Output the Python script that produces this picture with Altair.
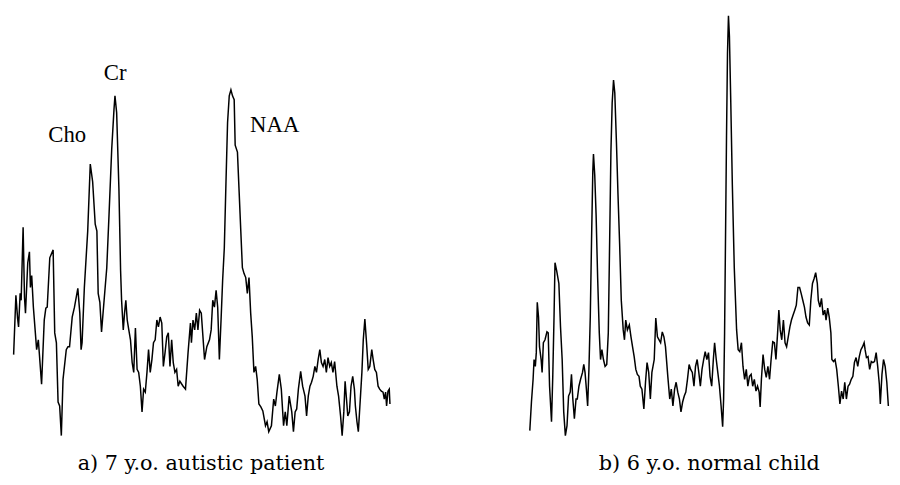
import altair as alt
import pandas as pd

# ---- Panel a: 7 y.o. autistic patient (position along spectrum, signal in arbitrary units)
a_pos = [
    1.7, 4, 5.7, 6.7, 8.3, 9.3, 11.3, 12.7, 13.7, 16,
    17.7, 18.7, 20, 21.7, 25, 26.7, 30, 32.7, 34.3, 35.7,
    38.3, 41.7, 43.3, 45, 46.7, 48.3, 50, 51.7, 55, 56.7,
    58.3, 61, 63.3, 66.7, 68.7, 70, 71, 73.3, 76.7, 79.3,
    81.7, 84.3, 86, 87.3, 89, 90.7, 93.3, 96, 98.3, 101,
    103.3, 104.3, 106, 108.3, 110, 111, 112.7, 114, 115.3, 116.7,
    118.3, 120, 121.7, 123.3, 125, 126.7, 128.3, 130, 131.7, 133.3,
    135, 136.7, 138.3, 140, 141.7, 143.3, 145, 146.7, 148.3, 150,
    151.7, 153.3, 155, 156.7, 158.3, 160, 161.7, 163.3, 165, 166.7,
    168.3, 170, 173.3, 175.7, 178.3, 180.7, 181.7, 183.3, 185, 186.7,
    188.3, 190, 191.7, 195, 197.3, 200, 201.7, 203.3, 205, 206.7,
    208.3, 210, 211.7, 213.3, 215, 216.7, 218.3, 220, 221.7, 223.3,
    225, 226, 228.3, 230, 231.7, 233.3, 235, 236.7, 238.3, 240,
    241.7, 243.3, 245, 246.7, 248.3, 250, 252, 254, 256.7, 258.3,
    260, 262.7, 265, 266.7, 268.3, 270.7, 272.7, 275, 276.7, 278.3,
    280.7, 282.3, 283.3, 285, 286.7, 288.3, 290, 292.3, 294.3, 296.7,
    298.3, 300, 301.7, 303.3, 305, 306.7, 308.3, 310, 311.7, 313.3,
    315, 316.7, 318.3, 320, 321.7, 323.3, 325, 326.7, 329, 330.7,
    332.7, 334.3, 336, 337.3, 338.7, 340, 341.7, 343.3, 345, 346.7,
    347.7, 349.3, 350.7, 352.7, 354.3, 355.7, 357.3, 359, 360.7, 362.3,
    364.3, 365.7, 367.3, 369, 370.7, 372.3, 374, 375.7, 377, 378.3,
    379.3, 380.7, 382, 382.7,
]
a_sig = [
    82, 142, 119, 110, 144, 137, 211, 140, 124, 175,
    186, 150, 162, 130, 87, 97, 52, 117, 129, 130,
    180, 188, 104, 94, 34, 30, 0, 57, 87, 90,
    90, 120, 130, 149, 124, 87, 94, 150, 207, 275,
    257, 214, 207, 144, 135, 105, 137, 170, 224, 290,
    330, 344, 327, 250, 167, 137, 107, 124, 137, 117,
    107, 97, 74, 64, 109, 67, 64, 50, 24, 47,
    44, 64, 87, 64, 77, 94, 97, 117, 110, 120,
    114, 70, 84, 100, 104, 70, 97, 74, 64, 67,
    50, 55, 50, 47, 84, 114, 94, 117, 107, 124,
    107, 127, 124, 77, 90, 97, 107, 137, 130, 147,
    130, 77, 117, 157, 190, 257, 317, 344, 350, 344,
    340, 294, 287, 247, 207, 170, 164, 160, 144, 160,
    124, 100, 64, 70, 57, 32, 29, 25, 10, 14,
    4, 10, 37, 30, 44, 62, 47, 10, 24, 10,
    40, 30, 24, 4, 24, 27, 47, 65, 50, 40,
    20, 40, 50, 54, 60, 70, 64, 77, 87, 74,
    70, 77, 64, 79, 70, 74, 64, 75, 50, 40,
    20, 0, 24, 55, 37, 20, 24, 50, 60, 47,
    30, 14, 4, 37, 64, 97, 118, 94, 67, 70,
    87, 77, 67, 64, 50, 47, 45, 44, 37, 44,
    30, 45, 47, 32,
]

# ---- Panel b: 6 y.o. normal child
b_pos = [
    0.3, 2, 3.7, 4.7, 6, 7, 8, 9.3, 10.3, 12,
    13, 14.3, 16, 18, 19.3, 20.7, 22.7, 24, 25.3, 26.3,
    28, 30.3, 32, 33.7, 35.3, 37, 38.7, 40.3, 42, 43.3,
    44.7, 46.3, 48, 49.3, 51, 52.7, 54.7, 56, 57.3, 58.7,
    60, 61.3, 62.7, 64, 65.3, 66, 67.3, 68.7, 70.3, 72,
    73.3, 74.7, 76.3, 78, 79.7, 81.3, 82.7, 84, 85.3, 86.7,
    88, 89.7, 91.3, 93, 94.7, 96.7, 98, 99.3, 101, 103,
    104.7, 106.3, 108, 109.7, 111.3, 113, 114.3, 116, 118, 119.7,
    121.3, 123, 124.7, 126.3, 128.7, 130.3, 132, 133.7, 135.3, 137,
    138.7, 140.3, 142.7, 144.7, 146.3, 148, 149.7, 151.3, 153, 154.7,
    156.3, 158, 159.7, 161.3, 163, 164.7, 166.3, 168, 169.7, 171.3,
    173, 174.7, 176.3, 178, 179.7, 181.3, 183, 184.7, 186.3, 188,
    189.7, 191, 192.7, 194.3, 196, 197.7, 199.3, 200.3, 201.3, 202.3,
    203.3, 204.3, 205.3, 206.3, 207.7, 209.3, 211.3, 213.7, 215.3, 217,
    218.7, 220.3, 222, 223.7, 225.3, 227, 228.7, 230.3, 232, 233.7,
    235.3, 237, 238, 239.3, 241, 242.7, 244.3, 246, 247.7, 249.3,
    251, 252.7, 254.3, 256, 257.3, 258.7, 260.3, 262, 263.7, 265.3,
    267, 268.7, 270.3, 272, 273.7, 275.3, 277, 278.7, 280.3, 282,
    283.7, 285.3, 287, 288.7, 290.3, 292, 293.7, 295.3, 297, 298,
    299.7, 301.3, 303, 304.7, 306, 307.7, 309.3, 311, 312, 313.7,
    315.3, 317, 318.7, 320.3, 322, 323.7, 325.3, 327, 328.7, 330.3,
    332, 333.7, 335.3, 337, 338.7, 340.3, 342, 343.7, 345.3, 346.3,
    347.7, 349.3, 351, 352.7, 354.3, 356, 357.7, 359.3, 361, 362,
    363.7, 365.3, 367, 368.7, 370.3,
]
b_sig = [
    5, 34, 57, 77, 70, 84, 135, 120, 90, 77,
    64, 94, 97, 105, 104, 50, 14, 60, 120, 175,
    167, 154, 110, 77, 24, 0, 10, 40, 44, 62,
    37, 17, 37, 37, 50, 57, 64, 72, 64, 47,
    30, 67, 120, 197, 267, 285, 264, 224, 160, 104,
    77, 87, 77, 70, 72, 104, 197, 287, 337, 360,
    347, 297, 244, 194, 137, 107, 97, 117, 107, 112,
    100, 90, 80, 67, 62, 60, 50, 47, 27, 54,
    74, 64, 37, 64, 77, 119, 100, 97, 94, 105,
    100, 90, 60, 37, 47, 30, 47, 54, 44, 37,
    24, 34, 40, 44, 57, 72, 67, 64, 50, 70,
    77, 64, 50, 67, 77, 85, 77, 84, 60, 50,
    77, 94, 77, 64, 50, 30, 9, 37, 104, 204,
    304, 387, 425, 404, 337, 254, 170, 107, 87, 85,
    94, 70, 57, 67, 50, 60, 62, 50, 57, 45,
    50, 44, 29, 57, 82, 67, 59, 70, 57, 77,
    95, 94, 77, 104, 127, 107, 97, 117, 94, 90,
    100, 110, 117, 122, 127, 132, 150, 150, 144, 137,
    130, 120, 114, 112, 137, 154, 159, 165, 154, 137,
    130, 139, 122, 127, 117, 129, 120, 104, 77, 75,
    77, 67, 50, 32, 45, 37, 54, 37, 50, 52,
    57, 60, 74, 79, 70, 80, 87, 90, 94, 87,
    79, 80, 67, 75, 74, 75, 84, 70, 52, 32,
    62, 77, 70, 54, 30,
]

# ---- Peak labels (panel a) and captions
label_text = ["Cho", "Cr", "NAA"]
label_pos = [56, 104.5, 266]
label_sig = [297, 360, 307]
captions = ["a) 7 y.o. autistic patient", "b) 6 y.o. normal child"]

assert len(a_pos) == len(a_sig)
assert len(b_pos) == len(b_sig)

df_a = pd.DataFrame({"pos": a_pos, "signal": a_sig})
df_b = pd.DataFrame({"pos": b_pos, "signal": b_sig})
df_lab = pd.DataFrame({"pos": label_pos, "signal": label_sig, "label": label_text})

y_enc = alt.Y("signal:Q", scale=alt.Scale(domain=[0, 427], nice=False, zero=False), axis=None)

def caption(text):
    return alt.TitleParams(
        text, orient="bottom", anchor="middle", font="DejaVu Serif",
        fontSize=21, fontWeight="normal", color="black", offset=15,
    )

xa = alt.X("pos:Q", scale=alt.Scale(domain=[0, 383], nice=False, zero=False), axis=None)
line_a = alt.Chart(df_a).mark_line(color="black", strokeWidth=1.5).encode(x=xa, y=y_enc)
labels_a = alt.Chart(df_lab).mark_text(
    font="Liberation Serif", fontSize=23, align="center", baseline="alphabetic", color="black"
).encode(x=xa, y=y_enc, text="label:N")
panel_a = alt.layer(line_a, labels_a).properties(width=383, height=427, title=caption(captions[0]))

xb = alt.X("pos:Q", scale=alt.Scale(domain=[0, 371], nice=False, zero=False), axis=None)
line_b = alt.Chart(df_b).mark_line(color="black", strokeWidth=1.5).encode(x=xb, y=y_enc)
panel_b = line_b.properties(width=364, height=427, title=caption(captions[1]))

chart = (
    alt.hconcat(panel_a, panel_b, spacing=135)
    .properties(padding={"left": 2, "top": 2, "right": 0, "bottom": 0}, background="white")
    .configure_view(stroke=None)
)

chart.save("out.html", embed_options={"renderer": "svg", "actions": False})
